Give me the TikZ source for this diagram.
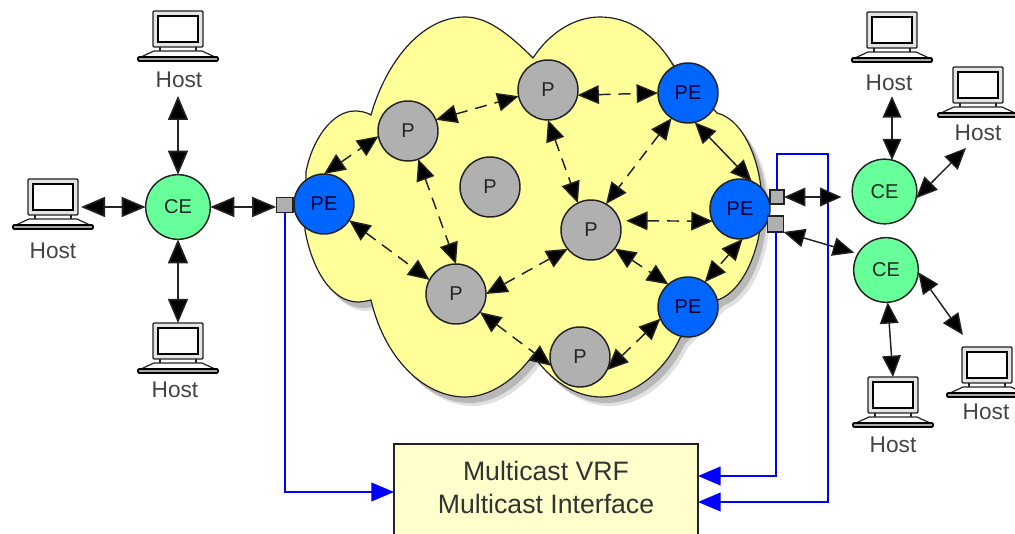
\documentclass[tikz,border=0pt]{standalone}
\usepackage{fontspec}
\setmainfont{Liberation Sans}
\usetikzlibrary{arrows.meta}
\definecolor{cegreen}{HTML}{66FF99}
\definecolor{peblue}{HTML}{0066FF}
\definecolor{pgray}{HTML}{B0B0B0}
\definecolor{cloudy}{HTML}{FFFF99}
\definecolor{boxy}{HTML}{FFFFCC}
\definecolor{linedark}{HTML}{222222}
\definecolor{hosttext}{HTML}{444444}
\newcommand{\cloudshape}{(533,58) .. controls (505,30) and (485,17) .. (465,17)
 .. controls (420,17) and (385,65) .. (371,115)
 .. controls (366,112) and (360,111) .. (355,111)
 .. controls (332,111) and (312,140) .. (306,172)
 -- (305,230) .. controls (312,270) and (332,302) .. (358,302)
 .. controls (362,302) and (367,301) .. (371,300)
 .. controls (385,360) and (425,397) .. (465,397)
 .. controls (490,397) and (515,380) .. (533,355)
 .. controls (550,380) and (575,397) .. (601,397)
 .. controls (635,397) and (665,370) .. (680,338)
 -- (718,300) .. controls (745,290) and (762,245) .. (762,205)
 .. controls (762,165) and (745,120) .. (717,113)
 -- (673,65) .. controls (655,35) and (630,17) .. (600,17)
 .. controls (575,17) and (550,32) .. (533,58) -- cycle}
\tikzset{
 router/.style={circle,draw=linedark,line width=1.1pt,minimum size=45pt,inner sep=0pt,outer sep=0pt,font=\fontsize{15}{18}\selectfont,text=black!85},
 cenode/.style={router,fill=cegreen,minimum size=48.5pt},
 penode/.style={router,fill=peblue,text=black!80!blue},
 pnode/.style={router,fill=pgray},
 portbox/.style={rectangle,draw=linedark,line width=1pt,fill=pgray,inner sep=0pt,outer sep=0pt},
 hostlabel/.style={font=\fontsize{17}{20}\selectfont,text=hosttext,inner sep=0pt,outer sep=0pt},
 linkout/.style={line width=1.2pt,draw=linedark,{Triangle[length=18pt,width=15pt,fill=black]}-{Triangle[length=18pt,width=15pt,fill=black]}},
 linkin/.style={line width=1.1pt,draw=linedark,{Triangle[length=16pt,width=14pt,fill=black]}-{Triangle[length=16pt,width=14pt,fill=black]}},
 linkdash/.style={linkin,dash pattern=on 9pt off 6pt},
 bluelink/.style={line width=1.5pt,draw=blue,-{Triangle[length=17pt,width=14pt,fill=blue]}},
 laptop/.pic={
  \draw[draw=linedark,line width=1.1pt,fill=black!10,rounded corners=0.8pt] (-25,0) rectangle (25,36);
  \draw[draw=black,line width=1.3pt,fill=white] (-20,5) rectangle (20,31);
  \draw[draw=linedark,line width=0.9pt] (-18,36) -- (-18,40) (18,36) -- (18,40);
  \draw[draw=linedark,line width=0.9pt,fill=white] (-24,40) -- (24,40) -- (37,46) -- (-37,46) -- cycle;
  \draw[draw=black,line width=1.2pt,fill=black!35,rounded corners=0.8pt] (-40,46) rectangle (40,50);
 }
}
\begin{document}
\begin{tikzpicture}[x=0.75pt,y=-0.75pt]
\useasboundingbox (0,0) rectangle (1015,534);
\clip (0,0) rectangle (1015,534);
% cloud with soft shadow
\begin{scope}[shift={(8,9)}]
\fill[black,opacity=0.12] \cloudshape;
\end{scope}
\begin{scope}[shift={(5,6)}]
\fill[black,opacity=0.18] \cloudshape;
\end{scope}
\draw[draw=linedark,line width=0.9pt,fill=cloudy] \cloudshape;
% routers
\node[cenode] (ceL) at (178,207) {CE};
\node[cenode] (ceRT) at (884.5,191.5) {CE};
\node[cenode] (ceRB) at (886,270) {CE};
\node[penode] (peL) at (324,204) {PE};
\node[penode] (peT) at (688,93) {PE};
\node[penode] (peR) at (740,209) {PE};
\node[penode] (peB) at (688,307) {PE};
\node[pnode] (p1) at (408,131) {P};
\node[pnode] (p2) at (548,90) {P};
\node[pnode] (pC) at (490,187) {P};
\node[pnode] (pM) at (591,230) {P};
\node[pnode] (pLL) at (456,294) {P};
\node[pnode] (pB) at (580,357) {P};
% ports
\node[portbox,minimum width=12.5pt,minimum height=11pt] (sqL) at (284.5,205) {};
\node[portbox,minimum width=10.5pt,minimum height=10.5pt] (sqRT) at (777,197) {};
\node[portbox,minimum width=12pt,minimum height=12pt] (sqRB) at (775.5,224) {};
% box
\node[draw=linedark,line width=1.2pt,fill=boxy,anchor=north,minimum width=228pt,minimum height=72pt,inner sep=0pt,outer sep=0pt,
 align=center,font=\fontsize{20}{25}\selectfont,text=black!80] (vrf) at (546,444) {Multicast VRF\\Multicast Interface\rule[-7pt]{0pt}{1pt}};
% hosts
\coordinate (hT) at (178,11);
\coordinate (hL) at (53,179);
\coordinate (hB) at (178,323);
\coordinate (hR1) at (892,12);
\coordinate (hR2) at (978,67);
\coordinate (hR3) at (987,347);
\coordinate (hR4) at (893,377);
\pic at (hT) {laptop};
\pic at (hL) {laptop};
\pic at (hB) {laptop};
\pic at (hR1) {laptop};
\pic at (hR2) {laptop};
\pic at (hR3) {laptop};
\pic at (hR4) {laptop};
\node[hostlabel] (lT) at (179,80) {Host};
\node[hostlabel] (lL) at (53,251) {Host};
\node[hostlabel] (lB) at (175,390) {Host};
\node[hostlabel] (lR1) at (889,83) {Host};
\node[hostlabel] (lR2) at (978,133) {Host};
\node[hostlabel] (lR3) at (986,412) {Host};
\node[hostlabel] (lR4) at (893,445) {Host};
% multicast connectors
\coordinate (bTR) at (828,154);
\coordinate (bBR) at (828,502);
\coordinate (vrfE1) at (698,476);
\coordinate (vrfE2) at (698,502);
\draw[bluelink] (sqL.south) |- (vrf.west);
\draw[bluelink] (sqRB.south) |- (vrfE1);
\draw[bluelink] (sqRT.north) |- (bTR) -- (bBR) -- (vrfE2);
% outer links
\coordinate (hLr) at (81,207);
\coordinate (aR2) at (966,148);
\coordinate (aR3) at (963,335);
\draw[linkout,shorten <=6pt] (ceL.north |- lT.south) -- (ceL.north);
\draw[linkout] (hLr) -- (ceL.west);
\draw[linkout] (ceL.south) -- (ceL.south |- hB);
\draw[linkout] (ceL.east) -- (sqL.west |- ceL.east);
\draw[linkin,shorten >=8pt] (sqRT.east) -- (ceRT.west |- sqRT.east);
\draw[linkin,shorten >=3pt] (sqRB.south east) -- (ceRB.150);
\draw[linkin,shorten <=4pt] (hR1 |- lR1.south) -- (hR1 |- ceRT.76);
\draw[linkin] (ceRT.-12) -- (aR2);
\draw[linkin] (ceRB.-4) -- (aR3);
\draw[linkin] (ceRB.-87) -- (hR4);
% inner links
\draw[linkdash] (peL.90) -- (p1.190);
\draw[linkdash] (peL.-33) -- (pLL.152);
\draw[linkdash] (p1.-70) -- (pLL.90);
\draw[linkdash] (p1.22) -- (p2.192);
\draw[linkdash] (p2.-10) -- (peT.180);
\draw[linkdash] (p2.-90) -- (pM.116);
\draw[linkdash] (peT.237) -- (pM.60);
\draw[linkin] (peT.-77) -- (peR.67);
\draw[linkdash,shorten <=5pt] (pM.18) -- (peR.204);
\draw[linkdash] (peR.-85) -- (peB.56);
\draw[linkdash] (pM.-38) -- (peB.131);
\draw[linkdash] (pLL.0) -- (pM.219);
\draw[linkdash] (pLL.-37) -- (pB.197);
\draw[linkdash] (pB.-26) -- (peB.203);
\end{tikzpicture}
\end{document}
